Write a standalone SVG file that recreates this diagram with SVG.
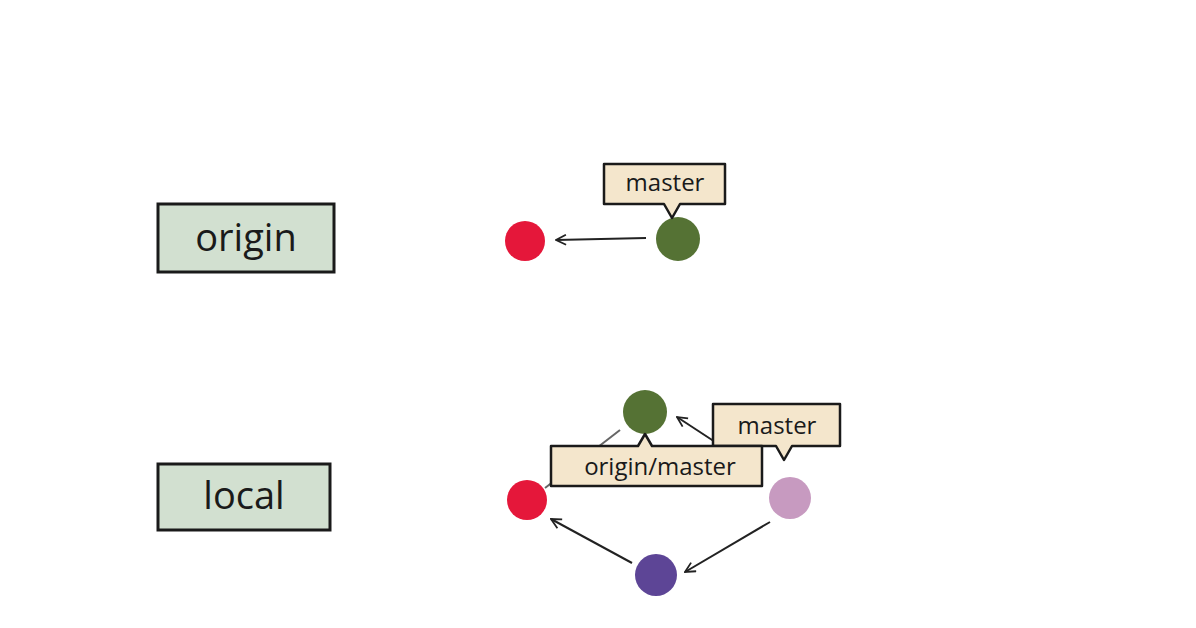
<svg xmlns="http://www.w3.org/2000/svg" width="1196" height="628" viewBox="0 0 1196 628">
<defs>
<marker id="ah" viewBox="0 0 12 12" refX="11" refY="6" markerWidth="12" markerHeight="12" markerUnits="userSpaceOnUse" orient="auto"><path d="M1,1 L11,6 L1,11" fill="none" stroke="#222" stroke-width="1.8"/></marker>
</defs>
<style>
.repo{fill:#d2e0d0;stroke:#1a1a1a;stroke-width:3}
.tag{fill:#f4e6cc;stroke:#1a1a1a;stroke-width:2.5;stroke-linejoin:round}
text{font-family:"Open Sans","Liberation Sans",sans-serif;fill:#1a1a1a}
.big{font-size:38px}
.small{font-size:24px}
.edge{stroke:#222;stroke-width:2;fill:none}
</style>
<rect width="1196" height="628" fill="#fff"/>
<g id="origin-label"><rect class="repo" x="158" y="204" width="176" height="68"/><text class="big" x="246" y="251" text-anchor="middle">origin</text></g>
<g id="local-label"><rect class="repo" x="158" y="464" width="172" height="66"/><text class="big" x="244" y="509" text-anchor="middle">local</text></g>
<g id="connectors">
<line class="edge" x1="646" y1="238" x2="556" y2="240" marker-end="url(#ah)"/>
<line x1="620" y1="430" x2="545" y2="488" stroke="#666" stroke-width="2"/>
<line class="edge" x1="735" y1="455" x2="677" y2="417" marker-end="url(#ah)"/>
<line class="edge" x1="770" y1="522" x2="685" y2="572" marker-end="url(#ah)"/>
<line class="edge" x1="632" y1="563" x2="551" y2="519" marker-end="url(#ah)"/>
</g>
<g id="o-red"><circle cx="525" cy="241" r="20" fill="#e5173a"/></g>
<g id="o-green"><circle cx="678" cy="239" r="22" fill="#557234"/></g>
<g id="o-master"><path class="tag" d="M604,164 H725 V204 H680 L672,218 L664,204 H604 Z"/><text class="small" x="665" y="191" text-anchor="middle">master</text></g>
<g id="l-red"><circle cx="527" cy="500" r="20" fill="#e5173a"/></g>
<g id="l-green"><circle cx="645" cy="412" r="22" fill="#557234"/></g>
<g id="l-lilac"><circle cx="790" cy="498" r="21" fill="#c79ac0"/></g>
<g id="l-purple"><circle cx="656" cy="575" r="21" fill="#5d4596"/></g>
<g id="l-master"><path class="tag" d="M713,404 H840 V446 H792 L784,460 L776,446 H713 Z"/><text class="small" x="777" y="434" text-anchor="middle">master</text></g>
<g id="l-origin-master"><path class="tag" d="M551,446 H638 L645,434 L652,446 H762 V486 H551 Z"/><text class="small" x="660" y="475" text-anchor="middle">origin/master</text></g>
</svg>
